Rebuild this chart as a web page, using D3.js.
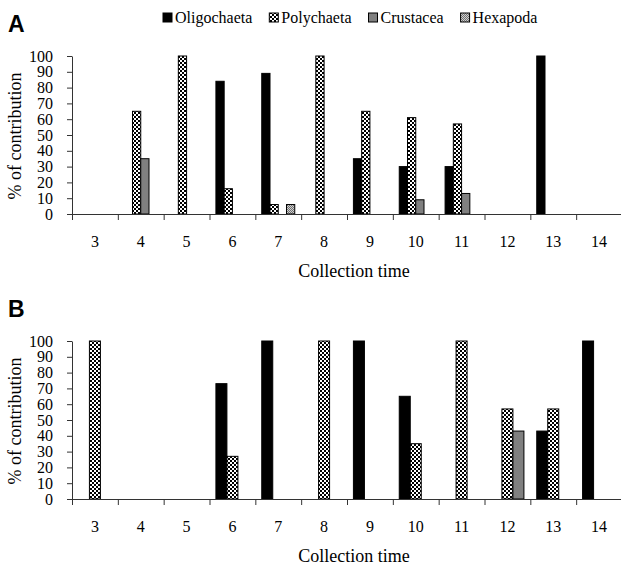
<html>
<head>
<style>
    body { margin:0; background:white; }
</style>
</head>
<body>
<svg id="plot"></svg>
<script src="https://d3js.org/d3.v7.min.js"></script>
<script>

var serif = "'Liberation Serif','Times New Roman','DejaVu Serif',serif";

// collection times (x categories)
var times = [3,4,5,6,7,8,9,10,11,12,13,14];
var yTicks = [0,10,20,30,40,50,60,70,80,90,100];

var seriesA = ["Oligochaeta","Polychaeta","Crustacea","Hexapoda"];
var seriesB = ["Oligochaeta","Polychaeta","Crustacea"];

// panel A values (% of contribution)
var oligoA = [0,0,0,84,89,0,35,30,30,0,100,0];
var polyA  = [0,65,100,16,6,100,65,61,57,0,0,0];
var crustA = [0,35,0,0,0,0,0,9,13,0,0,0];
var hexaA  = [0,0,0,0,6,0,0,0,0,0,0,0];

// panel B values
var oligoB = [0,0,0,73,100,0,100,65,0,0,43,100];
var polyB  = [100,0,0,27,0,100,0,35,100,57,57,0];
var crustB = [0,0,0,0,0,0,0,0,0,43,0,0];

var fills = {
    Oligochaeta:"black",
    Polychaeta:"url(#checker)",
    Crustacea:"#808080",
    Hexapoda:"url(#dots)"
};

var svg = d3.select("#plot")
    .attr("width",621)
    .attr("height",567);

//patterns for the bars
var defs = svg.append("defs");

var checker = defs.append("pattern")
    .attr("id","checker")
    .attr("patternUnits","userSpaceOnUse")
    .attr("width",4)
    .attr("height",4);
checker.append("rect").attr("width",4).attr("height",4).attr("fill","black");
checker.append("rect").attr("x",0).attr("y",0).attr("width",2).attr("height",2).attr("fill","white");
checker.append("rect").attr("x",2).attr("y",2).attr("width",2).attr("height",2).attr("fill","white");

var dots = defs.append("pattern")
    .attr("id","dots")
    .attr("patternUnits","userSpaceOnUse")
    .attr("width",2)
    .attr("height",2);
dots.append("rect").attr("width",2).attr("height",2).attr("fill","#d0d0d0");
dots.append("rect").attr("width",1).attr("height",1).attr("fill","#707070");
dots.append("rect").attr("x",1).attr("y",1).attr("width",1).attr("height",1).attr("fill","#707070");


var drawPanel = function(letter,top,series,values)
{
    var margins = {left:72,right:622,top:top,bottom:top+158};

    var xScale = d3.scaleBand()
        .domain(times)
        .range([margins.left,margins.right]);

    var bw = xScale.bandwidth();
    var innerScale = d3.scaleBand()
        .domain(series)
        .range([bw*0.14,bw*0.86]);

    var yScale = d3.scaleLinear()
        .domain([0,100])
        .range([margins.bottom,margins.top]);

    // boundary ticks between categories
    var edgeScale = d3.scaleLinear()
        .domain([2.5,14.5])
        .range([margins.left,margins.right]);

    var g = svg.append("g");

    //panel letter
    g.append("text")
        .attr("x",8)
        .attr("y",top-24)
        .style("font-family","'Liberation Sans',Arial,sans-serif")
        .style("font-weight","bold")
        .style("font-size","23px")
        .text(letter);

    //bars
    series.forEach(function(name,si)
    {
        var rows = times.map(function(t,i){ return {time:t,value:values[si][i]}; })
            .filter(function(d){ return d.value>0; });

        g.append("g")
            .selectAll("rect")
            .data(rows)
            .enter()
            .append("rect")
            .attr("x",function(d){ return xScale(d.time)+innerScale(name); })
            .attr("y",function(d){ return yScale(d.value); })
            .attr("width",innerScale.bandwidth())
            .attr("height",function(d){ return yScale(0)-yScale(d.value); })
            .attr("fill",fills[name])
            .attr("stroke","black")
            .attr("stroke-width",1);
    });

    //axes
    g.append("g")
        .attr("transform","translate("+margins.left+",0)")
        .call(d3.axisLeft(yScale).tickValues(yTicks).tickSize(5).tickSizeOuter(0).tickPadding(14))
        .call(function(a){ a.selectAll("line,path").attr("stroke","#333"); });

    g.append("g")
        .attr("transform","translate(0,"+margins.bottom+")")
        .call(d3.axisBottom(edgeScale).tickValues(d3.range(2.5,15,1)).tickFormat("").tickSize(6).tickSizeOuter(0))
        .call(function(a){ a.selectAll("line,path").attr("stroke","#333"); });

    g.append("g")
        .attr("transform","translate(0,"+margins.bottom+")")
        .call(d3.axisBottom(xScale).tickSize(0).tickPadding(22))
        .call(function(a){ a.select(".domain").remove(); });

    g.selectAll(".tick text")
        .style("font-family",serif)
        .style("font-size","16px")
        .attr("fill","black");

    //axis titles
    g.append("text")
        .attr("text-anchor","middle")
        .attr("x",354)
        .attr("y",margins.bottom+63)
        .style("font-family",serif)
        .style("font-size","18px")
        .text("Collection time");

    g.append("text")
        .attr("text-anchor","middle")
        .attr("transform","translate(21,"+(top+80)+") rotate(-90)")
        .style("font-family",serif)
        .style("font-size","18px")
        .text("% of contribution");
};

drawPanel("A",56,seriesA,[oligoA,polyA,crustA,hexaA]);
drawPanel("B",341,seriesB,[oligoB,polyB,crustB]);

//legend on top
var legend = svg.append("g");
var lx = 163;
seriesA.forEach(function(name)
{
    legend.append("rect")
        .attr("x",lx)
        .attr("y",13)
        .attr("width",9)
        .attr("height",9)
        .attr("fill",fills[name])
        .attr("stroke","black");
    var t = legend.append("text")
        .attr("x",lx+12)
        .attr("y",23)
        .style("font-family",serif)
        .style("font-size","16px")
        .text(name);
    lx = lx+12+t.node().getComputedTextLength()+17;
});

</script>
</body>
</html>
